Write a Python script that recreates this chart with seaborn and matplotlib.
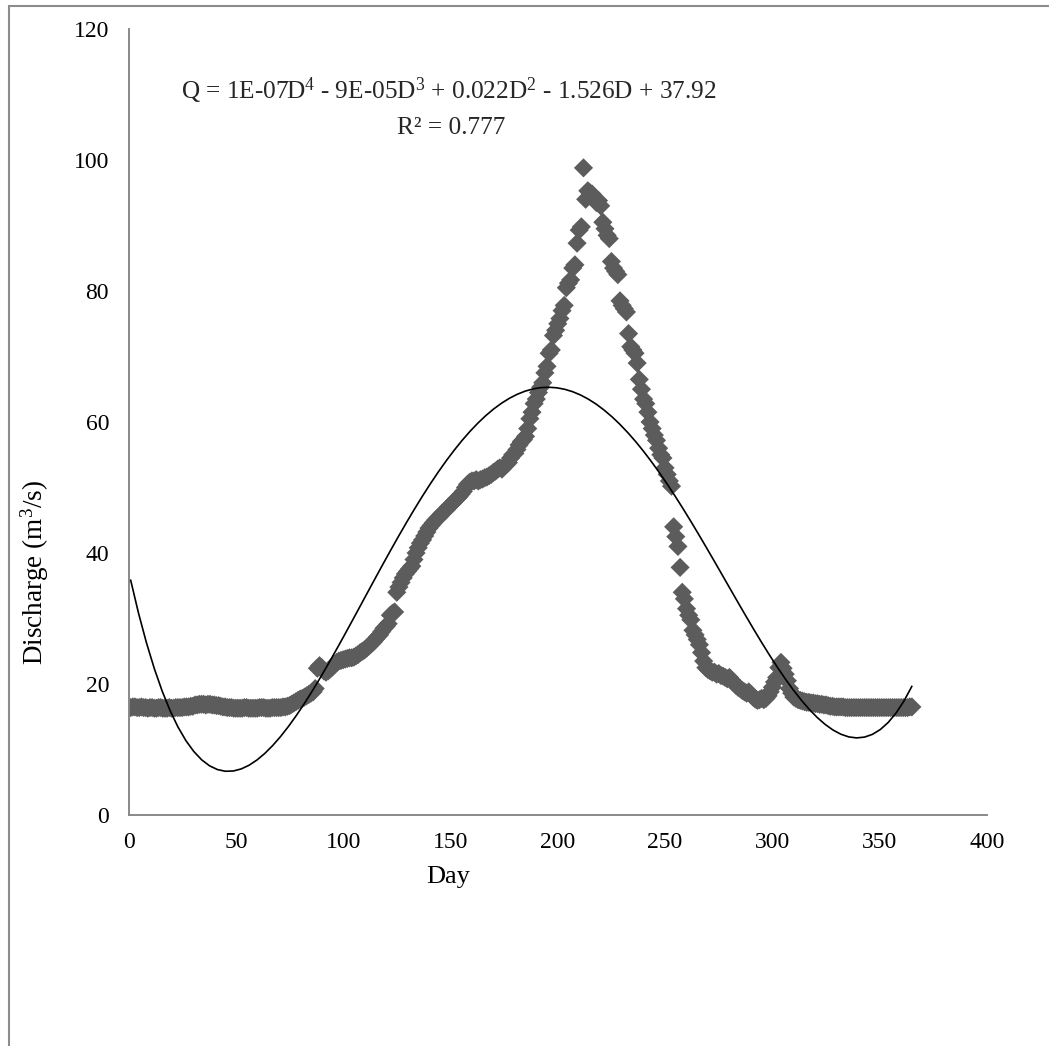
import numpy as np
import pandas as pd
import matplotlib
matplotlib.use("Agg")
import matplotlib.pyplot as plt
from matplotlib.patches import Rectangle
import seaborn as sns

# Daily mean discharge (m3/s), one value per day of the year
winter_low = [
    16.4, 16.5, 16.5, 16.4, 16.4, 16.5, 16.4, 16.4, 16.3, 16.4,
    16.4, 16.3, 16.3, 16.4, 16.4, 16.3, 16.3, 16.3, 16.4, 16.3,
    16.3, 16.4, 16.4, 16.4, 16.4, 16.5, 16.5, 16.5, 16.6, 16.6,
    16.8, 16.8, 16.9, 16.9, 16.9, 16.8, 16.9, 16.9, 16.8, 16.8,
    16.7, 16.7, 16.6, 16.5, 16.5,
    16.4, 16.4, 16.4, 16.3, 16.3, 16.3, 16.3, 16.3, 16.4, 16.4,
    16.3, 16.3, 16.3, 16.3, 16.3, 16.4, 16.4, 16.4, 16.3, 16.3,
    16.3, 16.4, 16.4, 16.4, 16.4, 16.4, 16.5, 16.5, 16.6, 16.7,
]
spring_rise = [
    16.9, 17.1, 17.3, 17.5, 17.7, 17.8, 18.0, 18.2, 18.4, 18.6,
    18.8, 19.3,
    22.4, 22.8, 22.5, 22.0, 21.8, 22.0, 22.3, 22.6, 23.0, 23.3,
    23.5, 23.6, 23.7,
    23.8, 23.9, 24.0, 24.0, 24.1, 24.3, 24.5, 24.8, 25.0, 25.2,
    25.5, 25.8, 26.1, 26.4,
    26.8, 27.2, 27.5, 28.0, 28.5, 28.8, 29.2, 30.5, 30.8, 31.0,
    34.0, 34.8, 35.5, 36.2, 36.8, 37.2, 37.6, 38.0,
    39.0, 40.0, 40.8, 41.5, 42.0, 42.6, 43.2, 43.8,
    44.2, 44.6, 45.0, 45.3, 45.6, 46.0, 46.3, 46.6,
    47.0, 47.3, 47.6, 48.0, 48.3, 48.6, 49.0, 49.4,
]
summer_peak = [
    50.0, 50.5, 50.8, 51.0, 51.0, 51.2, 51.0, 51.2, 51.3, 51.5,
    51.6, 51.8, 52.0, 52.3, 52.5, 52.8, 53.0, 52.8, 53.2, 53.5,
    53.8, 54.5, 55.0, 55.2, 55.8, 56.5, 57.0, 57.3, 57.8, 59.0,
    60.5, 61.5, 62.8, 63.5, 64.5, 65.3, 66.0, 67.5, 68.5, 70.5,
    71.0, 73.2, 74.0, 75.0, 75.8, 77.0, 77.8, 80.5, 81.2,
    81.7, 83.5, 84.0, 87.3, 89.3, 89.8, 98.8, 94.0, 95.3, 95.0,
    94.8, 94.2, 93.5, 93.8, 93.0, 90.5, 89.5, 88.5, 88.0, 84.5,
    83.5, 83.0, 82.5, 78.5, 77.8, 77.3, 76.8, 73.5, 71.5, 71.0,
    70.5, 69.0, 66.5, 65.0, 63.5, 62.8, 61.5, 60.0, 59.0, 58.0,
    57.2, 56.0, 55.0, 54.5, 53.0, 52.0, 51.0, 50.2, 44.0, 42.5,
    41.0, 37.8, 34.0, 33.0, 31.5,
]
autumn_recession = [
    30.5, 29.8, 28.2, 27.5, 26.8, 26.0, 24.8, 23.5, 22.5, 22.2,
    22.0, 21.8, 21.8, 21.5, 21.6, 21.3, 21.2, 21.0, 20.8, 21.0,
    20.6, 20.2, 19.8, 19.5, 19.3, 19.0, 18.8, 18.6, 18.8, 18.4,
    18.0, 17.7, 17.5, 17.6, 17.8, 17.6, 17.8, 18.2, 18.8, 19.5,
    20.3, 21.0, 22.5, 23.3, 22.4, 21.5, 20.5, 19.3, 18.6, 18.0,
    17.8, 17.6, 17.5, 17.4, 17.3, 17.2, 17.2, 17.1, 17.1, 17.0,
    17.0, 16.9, 16.9, 16.8, 16.8,
    16.7, 16.6, 16.6, 16.5, 16.5, 16.5, 16.5, 16.5, 16.4, 16.4,
    16.4, 16.4, 16.4, 16.4, 16.4, 16.4, 16.4, 16.4, 16.4, 16.4,
    16.4, 16.4, 16.4, 16.4, 16.4, 16.4, 16.4, 16.4, 16.4, 16.4,
    16.4, 16.4, 16.4, 16.4, 16.4, 16.4, 16.4, 16.4, 16.5, 16.5,
]

discharge = winter_low + spring_rise + summer_peak + autumn_recession
days = np.arange(1, len(discharge) + 1)

x_ticks = [0, 50, 100, 150, 200, 250, 300, 350, 400]
y_ticks = [0, 20, 40, 60, 80, 100, 120]

equation_text = (r"Q = 1E-07D$^{4}$ - 9E-05D$^{3}$ + 0.022D$^{2}$"
                 r" - 1.526D + 37.92")
r2_text = "R² = 0.777"

df = pd.DataFrame({"Day": days, "Discharge": discharge})

sns.set_style("white")
plt.rcParams["font.family"] = ["Liberation Serif", "DejaVu Serif"]
plt.rcParams["mathtext.fontset"] = "custom"
plt.rcParams["mathtext.rm"] = "Liberation Serif"
plt.rcParams["mathtext.it"] = "Liberation Serif:italic"

W, H = 1049, 1046
fig = plt.figure(figsize=(W / 100, H / 100), dpi=100)
fig.patch.set_facecolor("white")

x0, x1 = 128.5, 987.0
y0, y1 = 815.0, 29.0
ax = fig.add_axes([x0 / W, 1 - y0 / H, (x1 - x0) / W, (y0 - y1) / H])

grey = "#5c5c5c"
axis_grey = "#898989"

sns.scatterplot(data=df, x="Day", y="Discharge", ax=ax, marker="D",
                s=95, color=grey, edgecolor="none", linewidth=0, zorder=2)
sns.regplot(data=df, x="Day", y="Discharge", ax=ax, order=4, ci=None,
            scatter=False, line_kws={"color": "black", "lw": 1.2,
                                     "zorder": 3})

ax.set_xlim(0, 400)
ax.set_ylim(0, 120)
ax.set_xticks(x_ticks)
ax.set_yticks(y_ticks)
ax.set_xticklabels([str(t) for t in x_ticks])
ax.set_yticklabels([str(t) for t in y_ticks])

for side in ["top", "right"]:
    ax.spines[side].set_visible(False)
for side in ["left", "bottom"]:
    ax.spines[side].set_color(axis_grey)
    ax.spines[side].set_linewidth(1.4)

ax.tick_params(axis="both", which="major", direction="out", length=5,
               width=1.2, color=axis_grey, labelsize=17, labelcolor="black")
ax.tick_params(axis="y", pad=9)
ax.tick_params(axis="x", pad=7)

ax.set_xlabel("Day", fontsize=19, color="black")
ax.xaxis.set_label_coords((448 - x0) / (x1 - x0), (y0 - 877) / (y0 - y1))
ax.xaxis.label.set_va("center")

ax.set_ylabel("Discharge (m$^{3}$/s)", fontsize=19.5, color="black")
ax.yaxis.set_label_coords((35 - x0) / (x1 - x0), (y0 - 572) / (y0 - y1))
ax.yaxis.label.set_va("center")

ax.text((449 - x0) / (x1 - x0), (y0 - 91) / (y0 - y1), equation_text,
        transform=ax.transAxes, ha="center", va="center", fontsize=18.2)
ax.text((451 - x0) / (x1 - x0), (y0 - 128) / (y0 - y1), r2_text,
        transform=ax.transAxes, ha="center", va="center", fontsize=18.2)

# Outer chart-area frame
frame = Rectangle((9 / W, -0.05), 1.2, (1 - 6 / H) + 0.05,
                  transform=fig.transFigure, fill=False,
                  edgecolor="#8c8c8c", linewidth=1.5)
fig.patches.append(frame)

ax.set_facecolor("white")
fig.savefig("out.png", dpi=100, facecolor="white")
